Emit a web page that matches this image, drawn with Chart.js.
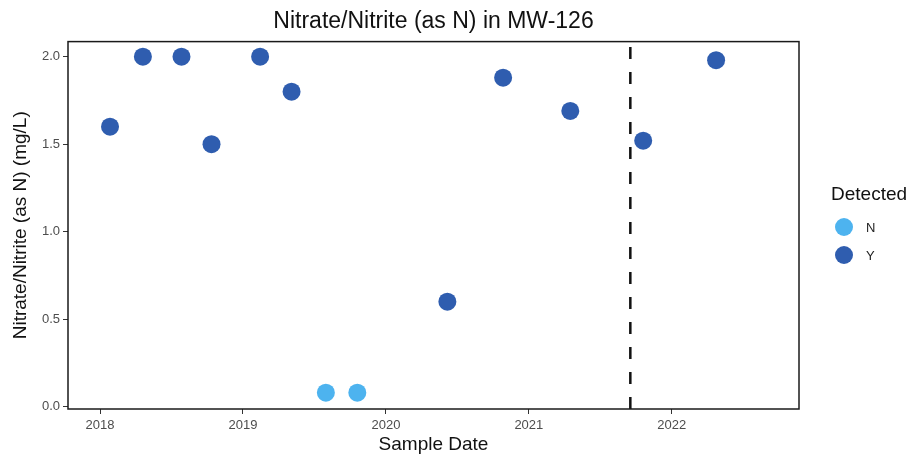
<!DOCTYPE html>
<html>
<head>
<meta charset="utf-8">
<title>Nitrate/Nitrite (as N) in MW-126</title>
<script src="https://cdn.jsdelivr.net/npm/chart.js@4"></script>
<style>
  html, body { margin: 0; padding: 0; background: #fff; }
  #wrap { width: 911px; height: 456px; position: relative; }
</style>
</head>
<body>
<div id="wrap"><canvas id="chart"></canvas></div>
<script>
// sample dates as decimal years, results in mg/L
const detectedDates = [2018.07, 2018.30, 2018.57, 2018.78, 2019.12, 2019.34, 2020.43, 2020.82, 2021.29, 2021.80, 2022.31];
const detectedValues = [1.6, 2.0, 2.0, 1.5, 2.0, 1.8, 0.6, 1.88, 1.69, 1.52, 1.98];
const nondetectDates = [2019.58, 2019.80];
const nondetectValues = [0.08, 0.08];

const yearTicks = [2018, 2019, 2020, 2021, 2022];
const valueTicks = [0, 0.5, 1.0, 1.5, 2.0];
const cutoffDate = 2021.71;

const colorN = '#4db3ef';
const colorY = '#2f5daf';
const FONT = '"Liberation Sans", Arial, sans-serif';

const toPoints = (xs, ys) => xs.map((x, i) => ({ x: x, y: ys[i] }));

// vertical dashed line + panel border
const panelDecor = {
  id: 'panelDecor',
  afterDatasetsDraw(chart) {
    const { ctx, chartArea: a, scales } = chart;
    const px = scales.x.getPixelForValue(cutoffDate);
    ctx.save();
    ctx.strokeStyle = '#111';
    ctx.lineWidth = 2.5;
    ctx.setLineDash([12, 13]);
    ctx.beginPath();
    ctx.moveTo(px, a.bottom);
    ctx.lineTo(px, a.top);
    ctx.stroke();
    ctx.setLineDash([]);
    ctx.lineWidth = 1.5;
    ctx.strokeStyle = '#1a1a1a';
    ctx.strokeRect(a.left, a.top, a.right - a.left, a.bottom - a.top);
    ctx.restore();
  }
};

// legend on the right, ggplot style
const sideLegend = {
  id: 'sideLegend',
  afterDraw(chart) {
    const { ctx } = chart;
    const x0 = 831;
    ctx.save();
    ctx.fillStyle = '#111';
    ctx.font = '19px ' + FONT;
    ctx.textBaseline = 'middle';
    ctx.fillText('Detected', x0, 195);
    chart.data.datasets.forEach((ds, i) => {
      const cy = 227 + i * 28;
      ctx.beginPath();
      ctx.arc(844, cy, 9, 0, Math.PI * 2);
      ctx.fillStyle = ds.backgroundColor;
      ctx.fill();
      ctx.fillStyle = '#222';
      ctx.font = '13px ' + FONT;
      ctx.fillText(ds.label, 866, cy + 1);
    });
    ctx.restore();
  }
};

new Chart(document.getElementById('chart').getContext('2d'), {
  type: 'scatter',
  data: {
    datasets: [
      { label: 'N', data: toPoints(nondetectDates, nondetectValues), backgroundColor: colorN, borderWidth: 0, pointRadius: 9, pointHoverRadius: 9 },
      { label: 'Y', data: toPoints(detectedDates, detectedValues), backgroundColor: colorY, borderWidth: 0, pointRadius: 9, pointHoverRadius: 9 }
    ]
  },
  options: {
    responsive: true,
    maintainAspectRatio: false,
    animation: false,
    layout: { padding: { left: 0, right: 112, top: 0, bottom: 0 } },
    plugins: {
      legend: { display: false },
      tooltip: { enabled: false },
      title: {
        display: true,
        fullSize: false,
        text: 'Nitrate/Nitrite (as N) in MW-126',
        color: '#111',
        font: { family: FONT, size: 23, weight: 'normal' },
        padding: { top: 8, bottom: 6 }
      }
    },
    scales: {
      x: {
        type: 'linear',
        min: 2017.776,
        max: 2022.89,
        afterBuildTicks: s => { s.ticks = yearTicks.map(v => ({ value: v })); },
        afterFit: s => { s.height = 47; },
        grid: { drawOnChartArea: false, tickLength: 5, color: '#333', tickWidth: 1 },
        border: { display: false },
        ticks: {
          color: '#4d4d4d',
          padding: 4,
          maxRotation: 0,
          font: { family: FONT, size: 13 },
          callback: v => String(v)
        },
        title: {
          display: true,
          text: 'Sample Date',
          color: '#111',
          font: { family: FONT, size: 19 },
          padding: { top: 0, bottom: 0 }
        }
      },
      y: {
        min: -0.013,
        max: 2.086,
        afterBuildTicks: s => { s.ticks = valueTicks.map(v => ({ value: v })); },
        afterFit: s => { s.width = 68; },
        grid: { drawOnChartArea: false, tickLength: 5, color: '#333', tickWidth: 1 },
        border: { display: false },
        ticks: {
          color: '#4d4d4d',
          padding: 3,
          font: { family: FONT, size: 13 },
          callback: v => Number(v).toFixed(1)
        },
        title: {
          display: true,
          text: 'Nitrate/Nitrite (as N) (mg/L)',
          color: '#111',
          font: { family: FONT, size: 19 },
          padding: { top: 9, bottom: 0 }
        }
      }
    }
  },
  plugins: [panelDecor, sideLegend]
});
</script>
</body>
</html>
